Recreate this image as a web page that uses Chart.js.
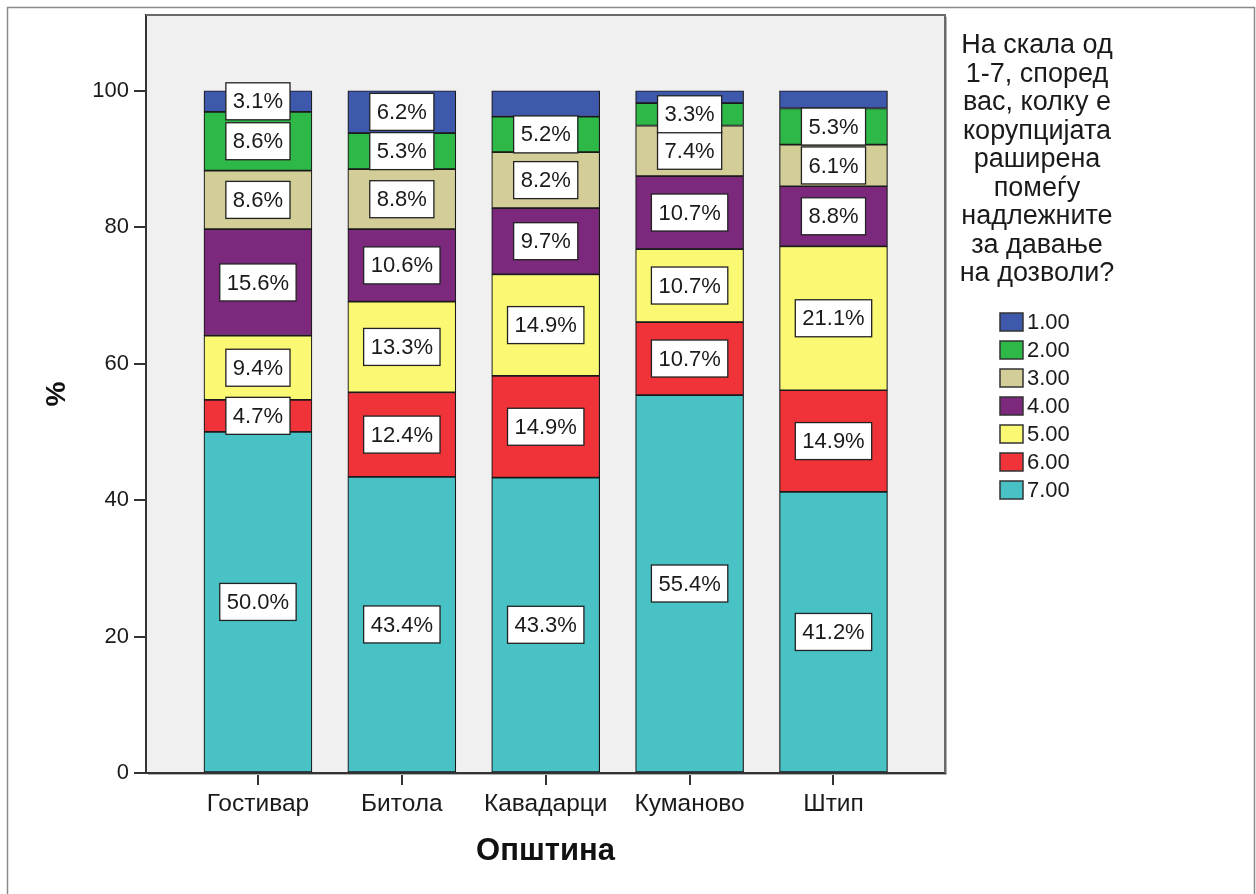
<!DOCTYPE html>
<html><head><meta charset="utf-8">
<script src="https://cdn.jsdelivr.net/npm/chart.js@4.4.1/dist/chart.umd.min.js"></script>
<style>
html,body{margin:0;padding:0;background:#fff;}
canvas{display:block;}
</style></head><body>
<canvas id="c" width="1256" height="894"></canvas>
<script>
const categories = ['Гостивар','Битола','Кавадарци','Куманово','Штип'];
const seriesLabels = ['1.00','2.00','3.00','4.00','5.00','6.00','7.00'];
const v1 = [3.1, 6.2, 3.8, 1.8, 2.6];
const v2 = [8.6, 5.3, 5.2, 3.3, 5.3];
const v3 = [8.6, 8.8, 8.2, 7.4, 6.1];
const v4 = [15.6, 10.6, 9.7, 10.7, 8.8];
const v5 = [9.4, 13.3, 14.9, 10.7, 21.1];
const v6 = [4.7, 12.4, 14.9, 10.7, 14.9];
const v7 = [50.0, 43.4, 43.3, 55.4, 41.2];
const yTicks = [0, 20, 40, 60, 80, 100];
const hiddenLabels = {'1.00': [2, 3, 4]};
const legendTitle = ['На скала од','1-7, според','вас, колку е','корупцијата','раширена','помеѓу','надлежните','за давање','на дозволи?'];
const xTitle = 'Општина';
const yTitle = '%';

const colors = {'1.00':'#3e58ac','2.00':'#2eb848','3.00':'#d3ce97','4.00':'#7c287d','5.00':'#fbf873','6.00':'#ef3338','7.00':'#48c2c5'};
const FAM = "'Liberation Sans', Arial, sans-serif";
const valuesBy = {'1.00':v1,'2.00':v2,'3.00':v3,'4.00':v4,'5.00':v5,'6.00':v6,'7.00':v7};

const datasets = seriesLabels.slice().reverse().map(l => ({
  label: l,
  data: valuesBy[l].map((v, i) => ({x: i, y: v})),
  backgroundColor: colors[l],
  borderColor: '#1a1a1a',
  borderWidth: 1.2,
  borderSkipped: false,
  barThickness: 108
}));

const plotBg = {
  id: 'plotBg',
  beforeDraw(chart) {
    const {ctx, chartArea: a} = chart;
    ctx.save();
    ctx.fillStyle = '#fff';
    ctx.fillRect(0, 0, chart.width, chart.height);
    ctx.fillStyle = '#f0f0f0';
    ctx.fillRect(a.left, a.top, a.right - a.left, a.bottom - a.top);
    ctx.restore();
  },
  afterDraw(chart) {
    const {ctx, chartArea: a} = chart;
    ctx.save();
    ctx.strokeStyle = '#6a6a6a';
    ctx.lineWidth = 2;
    ctx.beginPath();
    ctx.moveTo(a.left, a.top); ctx.lineTo(a.right, a.top); ctx.lineTo(a.right, a.bottom);
    ctx.stroke();
    ctx.strokeStyle = '#b0b0b0';
    ctx.lineWidth = 1;
    ctx.beginPath();
    ctx.moveTo(a.right + 1.5, a.top + 2); ctx.lineTo(a.right + 1.5, a.bottom + 1.5); ctx.lineTo(a.left + 2, a.bottom + 1.5);
    ctx.stroke();
    // outer border
    ctx.strokeStyle = '#8a8a8a';
    ctx.lineWidth = 1.5;
    ctx.strokeRect(7.5, 7.5, 1247, 900);
    // legend
    ctx.fillStyle = '#1a1a1a';
    ctx.textAlign = 'center';
    ctx.textBaseline = 'middle';
    ctx.font = '27px ' + FAM;
    legendTitle.forEach((t, i) => ctx.fillText(t, 1037, 46 + i * 28.5));
    ctx.textAlign = 'left';
    ctx.font = '22px ' + FAM;
    seriesLabels.forEach((l, i) => {
      const cy = 322 + i * 28;
      ctx.fillStyle = colors[l];
      ctx.fillRect(1000, cy - 9, 23, 18);
      ctx.strokeStyle = '#333';
      ctx.lineWidth = 1.5;
      ctx.strokeRect(1000, cy - 9, 23, 18);
      ctx.fillStyle = '#1a1a1a';
      ctx.fillText(l, 1027, cy + 1);
    });
    ctx.restore();
  }
};

const dataLabels = {
  id: 'dataLabels',
  afterDatasetsDraw(chart) {
    const {ctx} = chart;
    ctx.save();
    ctx.font = '22px ' + FAM;
    ctx.textAlign = 'center';
    ctx.textBaseline = 'middle';
    chart.data.datasets.forEach((ds, di) => {
      const meta = chart.getDatasetMeta(di);
      const hide = hiddenLabels[ds.label] || [];
      meta.data.forEach((bar, i) => {
        if (hide.includes(i)) return;
        const val = ds.data[i].y;
        const txt = val.toFixed(1) + '%';
        const cy = (bar.y + bar.base) / 2;
        const w = ctx.measureText(txt).width + 14;
        const h = 37;
        ctx.fillStyle = '#fff';
        ctx.fillRect(bar.x - w / 2, cy - h / 2, w, h);
        ctx.strokeStyle = '#222';
        ctx.lineWidth = 1.3;
        ctx.strokeRect(bar.x - w / 2, cy - h / 2, w, h);
        ctx.fillStyle = '#1a1a1a';
        ctx.fillText(txt, bar.x, cy + 1);
      });
    });
    ctx.restore();
  }
};

new Chart(document.getElementById('c'), {
  type: 'bar',
  data: {datasets},
  options: {
    responsive: false,
    animation: false,
    devicePixelRatio: 1,
    layout: {padding: {left: 0, right: 311, top: 15, bottom: 0}},
    plugins: {legend: {display: false}, tooltip: {enabled: false}},
    scales: {
      x: {
        type: 'linear', min: -0.778, max: 4.775, stacked: true, offset: false,
        afterBuildTicks: a => { a.ticks = categories.map((c, i) => ({value: i})); },
        afterFit: s => { s.height = 121; },
        ticks: {autoSkip: false, maxRotation: 0, padding: 5, color: '#1a1a1a',
          font: {size: 24.5, family: FAM},
          callback: v => categories[v] !== undefined ? categories[v] : ''},
        grid: {offset: false, drawOnChartArea: false, drawTicks: true, tickLength: 12, color: '#333', lineWidth: 2},
        border: {display: true, color: '#333', width: 2},
        title: {display: true, text: xTitle, color: '#111',
          font: {size: 31, weight: 'bold', family: FAM}, padding: {top: 0, bottom: 24}}
      },
      y: {
        min: 0, max: 111.1, stacked: true,
        afterBuildTicks: a => { a.ticks = yTicks.map(v => ({value: v})); },
        afterFit: s => { s.width = 146; },
        ticks: {padding: 5, color: '#1a1a1a', font: {size: 22, family: FAM, lineHeight: 0.9}},
        grid: {drawOnChartArea: false, drawTicks: true, tickLength: 12, color: '#333', lineWidth: 2},
        border: {display: true, color: '#333', width: 2},
        title: {display: true, text: yTitle, color: '#111',
          font: {size: 28, weight: 'bold', family: FAM}, padding: {top: 40, bottom: 0}}
      }
    }
  },
  plugins: [plotBg, dataLabels]
});
</script>
</body></html>
